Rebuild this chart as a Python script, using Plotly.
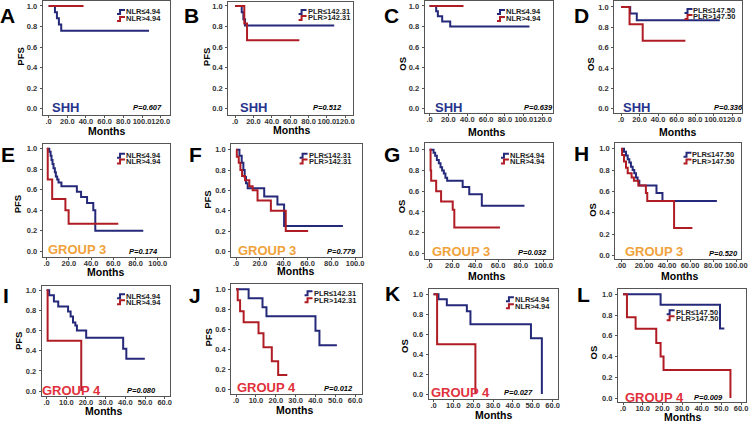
import plotly.graph_objects as go

W, H = 756, 425
BLUE = "#25297a"
RED = "#b01c24"
FONT = "Liberation Sans, Arial, sans-serif"

# ---------------- data (step curves: time, survival) ----------------
A_blue_t = [0, 6.8, 8.9, 11.0, 13.5, 107.5]
A_blue_s = [1.0, 0.94, 0.88, 0.82, 0.76, 0.76]
A_red_t = [0, 37.4]
A_red_s = [1.0, 1.0]

B_blue_t = [0, 7.2, 9.0, 10.8, 108]
B_blue_s = [1.0, 0.94, 0.87, 0.81, 0.81]
B_red_t = [0, 10, 13, 70]
B_red_s = [1.0, 0.83, 0.667, 0.667]

C_blue_t = [0, 7, 8.8, 13.4, 21.9, 106]
C_blue_s = [1.0, 0.95, 0.90, 0.85, 0.80, 0.80]
C_red_t = [0, 36]
C_red_s = [1.0, 1.0]

D_blue_t = [0, 9.9, 17, 106.7]
D_blue_s = [1.0, 0.935, 0.87, 0.87]
D_red_t = [0, 9.2, 23.4, 69.5]
D_red_s = [1.0, 0.83, 0.667, 0.667]

E_blue_t = [0.5, 2.4, 3.6, 4.4, 5.3, 6.2, 7.4, 8.3, 9.5, 10.7, 13.3, 27.2, 31, 36.4, 42, 43.8, 87]
E_blue_s = [1.0, 0.97, 0.93, 0.89, 0.85, 0.81, 0.77, 0.73, 0.70, 0.67, 0.635, 0.58, 0.53, 0.47, 0.40, 0.20, 0.20]
E_red_t = [0, 1, 5, 16.9, 19.8, 64.5]
E_red_s = [1.0, 0.70, 0.51, 0.40, 0.27, 0.27]

F_blue_t = [0, 2.8, 4.7, 6.1, 7.2, 8.3, 9.7, 23.6, 34.7, 40.3, 89.7]
F_blue_s = [1.0, 0.94, 0.87, 0.80, 0.73, 0.67, 0.62, 0.54, 0.46, 0.25, 0.25]
F_red_t = [0, 0.6, 2.2, 3.6, 5, 7.5, 11.1, 13.9, 18, 29.2, 41.7, 60.5]
F_red_s = [1.0, 0.93, 0.87, 0.80, 0.74, 0.70, 0.64, 0.60, 0.50, 0.40, 0.20, 0.20]

G_blue_t = [0, 3.5, 4.9, 6.4, 8.1, 9.6, 11, 12.5, 13.9, 15.4, 29, 34.8, 45.8, 83.2]
G_blue_s = [1.0, 0.97, 0.94, 0.90, 0.87, 0.83, 0.80, 0.77, 0.73, 0.70, 0.64, 0.57, 0.46, 0.46]
G_red_t = [0, 0.9, 1.4, 5.8, 10.1, 20.3, 21.7, 61.7]
G_red_s = [1.0, 0.80, 0.70, 0.60, 0.50, 0.42, 0.25, 0.25]

H_blue_t = [0.9, 2.6, 4.3, 5.8, 7.2, 8.6, 10.1, 11.5, 13, 14.4, 15.9, 30.8, 36, 83.3]
H_blue_s = [1.0, 0.97, 0.935, 0.90, 0.87, 0.83, 0.80, 0.77, 0.73, 0.70, 0.655, 0.585, 0.51, 0.51]
H_red_t = [0, 0.9, 2.6, 4.3, 5.8, 9.2, 11.2, 15, 21.6, 22.8, 46.1, 62]
H_red_s = [1.0, 0.94, 0.88, 0.82, 0.77, 0.73, 0.70, 0.655, 0.585, 0.51, 0.256, 0.256]

I_blue_t = [0, 1.3, 3.7, 5.9, 10.9, 12.2, 13.4, 14.6, 15.4, 20.1, 38.9, 40.5, 49.9]
I_blue_s = [1.0, 0.95, 0.89, 0.84, 0.79, 0.74, 0.68, 0.65, 0.60, 0.53, 0.42, 0.32, 0.32]
I_red_t = [0, 0.5, 17.6]
I_red_s = [1.0, 0.5, 0.0]

J_blue_t = [0, 6.3, 13.3, 15.3, 40, 42, 50.8]
J_blue_s = [1.0, 0.91, 0.82, 0.73, 0.585, 0.44, 0.44]
J_red_t = [0, 0.8, 2, 3.8, 11.3, 13.8, 18, 21.2, 25.8]
J_red_s = [1.0, 0.89, 0.78, 0.67, 0.56, 0.42, 0.28, 0.14, 0.14]

K_blue_t = [0, 2.5, 6.7, 16.8, 18.6, 49.1, 54.6]
K_blue_s = [1.0, 0.95, 0.89, 0.83, 0.70, 0.56, 0.0]
K_red_t = [0, 1.8, 21.1]
K_red_s = [1.0, 0.5, 0.0]

L_blue_t = [0, 19.1, 49.3, 51.5]
L_blue_s = [1.0, 0.90, 0.67, 0.67]
L_red_t = [0, 2, 6.4, 16.9, 19.1, 20.6, 54.6]
L_red_s = [1.0, 0.78, 0.667, 0.53, 0.40, 0.27, 0.0]

panel_letters = ["A", "B", "C", "D", "E", "F", "G", "H", "I", "J", "K", "L"]
y_titles = ["PFS", "PFS", "OS", "OS", "PFS", "PFS", "OS", "OS", "PFS", "PFS", "OS", "OS"]
p_values = ["0.607", "0.512", "0.639", "0.336", "0.174", "0.779", "0.032", "0.520",
            "0.080", "0.012", "0.027", "0.009"]
groups = ["SHH"] * 4 + ["GROUP 3"] * 4 + ["GROUP 4"] * 4
legend_low = ["NLR≤4.94", "PLR≤142.31", "NLR≤4.94", "PLR≤147.50"] * 3
legend_high = ["NLR>4.94", "PLR>142.31", "NLR>4.94", "PLR>147.50"] * 3
x_tick_max = [120, 120, 120, 120, 100, 100, 100, 100, 60, 60, 60, 60]
x_tick_step = [20, 20, 20, 20, 20, 20, 20, 20, 10, 10, 10, 10]
x_tick_decimals = [1, 1, 1, 1, 1, 1, 1, 2, 1, 1, 1, 1]
y_ticks = [0.0, 0.2, 0.4, 0.6, 0.8, 1.0]

curves = {
    "A": (A_blue_t, A_blue_s, A_red_t, A_red_s), "B": (B_blue_t, B_blue_s, B_red_t, B_red_s),
    "C": (C_blue_t, C_blue_s, C_red_t, C_red_s), "D": (D_blue_t, D_blue_s, D_red_t, D_red_s),
    "E": (E_blue_t, E_blue_s, E_red_t, E_red_s), "F": (F_blue_t, F_blue_s, F_red_t, F_red_s),
    "G": (G_blue_t, G_blue_s, G_red_t, G_red_s), "H": (H_blue_t, H_blue_s, H_red_t, H_red_s),
    "I": (I_blue_t, I_blue_s, I_red_t, I_red_s), "J": (J_blue_t, J_blue_s, J_red_t, J_red_s),
    "K": (K_blue_t, K_blue_s, K_red_t, K_red_s), "L": (L_blue_t, L_blue_s, L_red_t, L_red_s),
}

# ---------------- layout geometry (pixels) ----------------
# box (l, t, r, b), x px of 0, x px of max tick, y px of 1.0, y px of 0.0
geom = [
    ((43, 1, 171, 115), 49, 162, 6, 109),
    ((230, 2, 356, 115), 237, 348, 6, 109),
    ((428, 1, 557, 113), 433, 547, 6, 109),
    ((619, 1, 748, 113), 626, 738, 7, 109),
    ((43, 144, 171, 258), 47, 159, 149, 252),
    ((233, 144, 365, 258), 238, 358, 150, 252),
    ((428, 143, 557, 260), 433, 548, 150, 254),
    ((620, 143, 747, 260), 626, 742, 149, 256),
    ((42, 287, 171, 397), 47, 166, 291, 392),
    ((233, 285, 365, 395), 238, 358, 290, 390),
    ((432, 290, 562, 400), 437, 557, 295, 395),
    ((623, 290, 752, 403), 628, 747, 295, 399),
]
letter_pos = [(8, 16), (193, 16), (395, 16), (586, 16), (8, 155), (197, 155), (395, 155), (586, 154),
              (6, 296), (197, 296), (396, 294), (588, 295)]
months_pos = [(107, 131), (294, 130), (490, 132), (683, 132), (106, 273), (298, 272), (490, 277), (685, 277),
              (104, 412), (297, 411), (497, 416), (688, 418)]
ytitle_pos = [(21, 57), (209, 57), (406, 64), (596, 64), (18, 205), (209, 200), (405, 207), (597, 210),
              (18, 342), (210, 338), (407, 347), (598, 353)]
group_pos = [(50, 108), (240, 108), (436, 108), (626, 108), (46, 250), (238, 251), (433, 252), (628, 252),
             (40, 391), (237, 388), (432, 393), (628, 398)]
p_pos = [(149, 108), (330, 108), (543, 108), (734, 108), (145, 252), (344, 252), (537, 253), (729, 254),
         (143, 391), (341, 389), (523, 393), (714, 398)]
legend_pos = [(118, 12, 19), (301, 12, 18), (501, 12, 19), (690, 11, 17), (118, 156, 162), (302, 156, 162),
              (505, 156, 162), (689, 155, 162), (118, 297, 303), (307, 294, 301), (510, 300, 307),
              (672, 313, 319)]
group_colors = {"SHH": "#27348b", "GROUP 3": "#f0a23a", "GROUP 4": "#e0313c"}


def px(x):
    return x / W


def py(y):
    return 1 - y / H


fig = go.Figure()
annotations = []
shapes = []
layout = {}

for i, letter in enumerate(panel_letters):
    n = "" if i == 0 else str(i + 1)
    (l, t, r, b), x0p, x1p, y1p, y0p = geom[i]
    xmax = x_tick_max[i]
    sx = (x1p - x0p) / xmax
    xr = [(l - x0p) / sx, (r - x0p) / sx]
    sy = (y0p - y1p)
    yr = [-(b - y0p) / sy, 1 + (y1p - t) / sy]
    xt = list(range(0, xmax + 1, x_tick_step[i]))
    dec = x_tick_decimals[i]
    xtt = [("." + "0" * dec) if v == 0 else f"{v:.{dec}f}" for v in xt]
    axcommon = dict(showgrid=False, zeroline=False, showline=True, linecolor="#555555", linewidth=1,
                    mirror=True, ticks="outside", ticklen=2, tickcolor="#555555", tickangle=0,
                    tickfont=dict(family=FONT, size=7.5, color="#333333", weight="bold"), fixedrange=True)
    layout["xaxis" + n] = dict(domain=[px(l), px(r)], range=xr, anchor="y" + n, tickvals=xt, ticktext=xtt,
                               ticklabelstandoff=-3, **axcommon)
    layout["yaxis" + n] = dict(domain=[py(b), py(t)], range=yr, anchor="x" + n, tickvals=y_ticks,
                               ticktext=[f"{v:.1f}" for v in y_ticks], ticklabelstandoff=1, **axcommon)
    bt, bs, rt, rs = curves[letter]
    fig.add_trace(go.Scatter(x=bt, y=bs, mode="lines", line=dict(color=BLUE, width=2, shape="hv"),
                             xaxis="x" + n, yaxis="y" + n, showlegend=False, hoverinfo="skip"))
    fig.add_trace(go.Scatter(x=rt, y=rs, mode="lines", line=dict(color=RED, width=2, shape="hv"),
                             xaxis="x" + n, yaxis="y" + n, showlegend=False, hoverinfo="skip"))

    # panel letter
    lx, ly = letter_pos[i]
    annotations.append(dict(x=px(lx), y=py(ly), xref="paper", yref="paper", text=f"<b>{letter}</b>",
                            showarrow=False, font=dict(family=FONT, size=21, color="black"),
                            xanchor="center", yanchor="middle"))
    mx, my = months_pos[i]
    annotations.append(dict(x=px(mx), y=py(my), xref="paper", yref="paper", text="<b>Months</b>",
                            showarrow=False, font=dict(family=FONT, size=10.5, color="black"),
                            xanchor="center", yanchor="middle"))
    tx, ty = ytitle_pos[i]
    annotations.append(dict(x=px(tx), y=py(ty), xref="paper", yref="paper", text=f"<b>{y_titles[i]}</b>",
                            showarrow=False, textangle=-90, font=dict(family=FONT, size=9.5, color="black"),
                            xanchor="center", yanchor="middle"))
    gx, gy = group_pos[i]
    annotations.append(dict(x=px(gx), y=py(gy), xref="paper", yref="paper", text=f"<b>{groups[i]}</b>",
                            showarrow=False, font=dict(family=FONT, size=13, color=group_colors[groups[i]]),
                            xanchor="left", yanchor="middle"))
    pxx, pyy = p_pos[i]
    annotations.append(dict(x=px(pxx), y=py(pyy), xref="paper", yref="paper",
                            text=f"<b><i>P=</i><i>{p_values[i]}</i></b>",
                            showarrow=False, font=dict(family=FONT, size=7.5, color="black"),
                            xanchor="center", yanchor="middle"))
    # legend
    lgx, lgy1, lgy2 = legend_pos[i]
    for yy, col, txt in ((lgy1, BLUE, legend_low[i]), (lgy2, RED, legend_high[i])):
        path = (f"M {px(lgx)} {py(yy + 2)} L {px(lgx + 3)} {py(yy + 2)} L {px(lgx + 3)} {py(yy - 2)} "
                f"L {px(lgx + 8)} {py(yy - 2)}")
        shapes.append(dict(type="path", path=path, xref="paper", yref="paper",
                           line=dict(color=col, width=2)))
        annotations.append(dict(x=px(lgx + 8), y=py(yy), xref="paper", yref="paper", text=f"<b>{txt}</b>",
                                showarrow=False, font=dict(family=FONT, size=7.5, color="#222222"),
                                xanchor="left", yanchor="middle", xshift=-1))

fig.update_layout(width=W, height=H, margin=dict(l=0, r=0, t=0, b=0), autosize=False,
                  paper_bgcolor="white", plot_bgcolor="white", showlegend=False,
                  annotations=annotations, shapes=shapes, **layout)

fig.write_html("out.html", config={"displayModeBar": False},
               post_script="document.body.style.margin='0px';"
                           "document.documentElement.style.overflow='hidden';")
